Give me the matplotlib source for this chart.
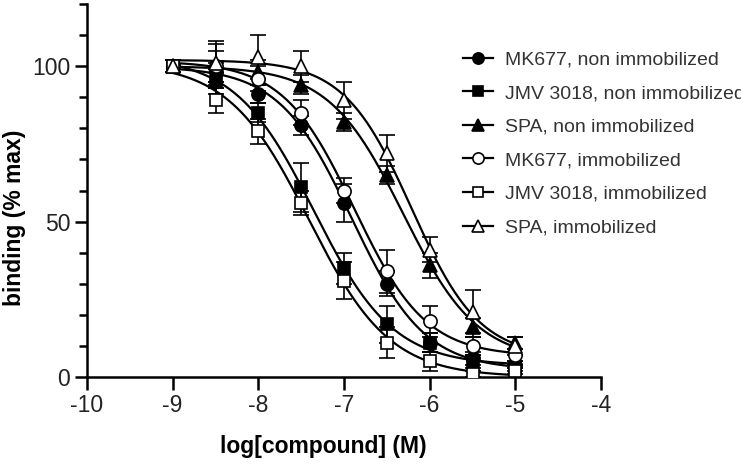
import numpy as np
import matplotlib
matplotlib.use("Agg")
import matplotlib.pyplot as plt
from matplotlib.ticker import MultipleLocator

plt.rcParams['font.family'] = ['Liberation Sans', 'DejaVu Sans']

# ---------------- data ----------------
log_conc = [-9, -8.5, -8, -7.5, -7, -6.5, -6, -5.5, -5]

mk677_non = [100, 98, 91, 81, 56, 30, 11, 6, 4]
mk677_non_err = [2, 3, 3, 3, 6, 4, 3, 2, 1]
jmv_non = [100, 95, 85, 61, 35, 17, 11, 5, 3]
jmv_non_err = [2, 4, 3, 8, 5, 6, 3, 2, 1]
spa_non = [100, 100, 98, 94, 82, 65, 36, 16, 11]
spa_non_err = [2, 5, 4, 3, 3, 3, 4, 3, 2]
mk677_imm = [100, 100, 96, 85, 60, 34, 18, 10, 7]
mk677_imm_err = [2, 7, 4, 4, 4, 7, 5, 3, 2]
jmv_imm = [100, 89, 79, 56, 31, 11, 5, 1, 2]
jmv_imm_err = [2, 4, 4, 4, 6, 5, 3, 1, 1]
spa_imm = [100, 101, 103, 100, 89, 72, 41, 21, 10]
spa_imm_err = [2, 7, 7, 5, 6, 6, 4, 7, 3]

labels = ["MK677, non immobilized", "JMV 3018, non immobilized",
          "SPA, non immobilized", "MK677, immobilized",
          "JMV 3018, immobilized", "SPA, immobilized"]
x_ticks = [-10, -9, -8, -7, -6, -5, -4]
y_ticks = [0, 50, 100]

series = [
    (mk677_non, mk677_non_err, 'o', 'black'),
    (jmv_non, jmv_non_err, 's', 'black'),
    (spa_non, spa_non_err, '^', 'black'),
    (mk677_imm, mk677_imm_err, 'o', 'white'),
    (jmv_imm, jmv_imm_err, 's', 'white'),
    (spa_imm, spa_imm_err, '^', 'white'),
]


def fit_logistic(x, y):
    """Least-squares fit of a 4-parameter logistic (grid over IC50/slope,
    linear solve for top/bottom)."""
    x = np.asarray(x, float)
    y = np.asarray(y, float)
    best = None
    for hill in np.linspace(0.6, 1.6, 51):
        for ic in np.linspace(-8.5, -5.5, 301):
            f = 1.0 / (1.0 + 10 ** ((x - ic) * hill))
            A = np.column_stack([1 - f, f])
            coef, *_ = np.linalg.lstsq(A, y, rcond=None)
            r = np.sum((A @ coef - y) ** 2)
            if best is None or r < best[0]:
                best = (r, ic, hill, coef[0], coef[1])
    return best[1:]


fig = plt.figure(figsize=(7.41, 4.71), dpi=100)
W, H = 741, 471
ax = fig.add_axes([87 / W, 1 - 377 / H, 514 / W, 373 / H])

xs = np.linspace(min(log_conc), max(log_conc), 300)
handles = []
for (vals, errs, mk, fc), lab in zip(series, labels):
    ic, hill, bottom, top = fit_logistic(log_conc, vals)
    curve = bottom + (top - bottom) / (1.0 + 10 ** ((xs - ic) * hill))
    ax.plot(xs, curve, color='black', lw=1.6, zorder=2)
    ax.errorbar(log_conc, vals, yerr=errs, fmt='none', ecolor='black',
                elinewidth=1.2, capsize=5.5, capthick=1.2, zorder=3)
    ms = 9.5 if mk != '^' else 10.5
    if mk == 's':
        ms = 9
    ax.plot(log_conc, vals, linestyle='none', marker=mk, ms=ms,
            mfc=fc, mec='black', mew=1.2, zorder=4)
    h, = ax.plot([], [], color='black', lw=1.6, marker=mk, ms=ms * 0.85,
                 mfc=fc, mec='black', mew=1.2)
    handles.append(h)

ax.set_xlim(-10, -4)
ax.set_ylim(0, 120)
ax.set_xticks(x_ticks)
ax.set_xticklabels([str(t) for t in x_ticks])
ax.set_yticks(y_ticks)
ax.yaxis.set_minor_locator(MultipleLocator(10))

for s in ['top', 'right']:
    ax.spines[s].set_visible(False)
for s in ['left', 'bottom']:
    ax.spines[s].set_linewidth(1.8)

ax.tick_params(axis='both', which='major', length=9, width=1.8,
               labelsize=16.5, labelcolor='#222222', pad=3)
ax.tick_params(axis='y', which='minor', length=6, width=1.8)

ax.set_xlabel("log[compound] (M)", fontsize=16.5, fontweight='bold')
ax.xaxis.set_label_coords((323 - 87) / 514, (377 - 446) / 373)
ax.xaxis.label.set_va('center')
ax.set_ylabel("binding (% max)", fontsize=16.5, fontweight='bold')
ax.yaxis.set_label_coords((15 - 87) / 514, (377 - 218) / 373)
ax.yaxis.label.set_va('center')

leg = ax.legend(handles, labels, loc='upper left',
                bbox_to_anchor=(463 / W, 1 - 51 / H),
                bbox_transform=fig.transFigure, frameon=False,
                fontsize=14, handlelength=1.55, handletextpad=0.6,
                labelspacing=0.82, borderpad=0, borderaxespad=0)
for t in leg.get_texts():
    t.set_color('#333333')

fig.savefig("out.png", dpi=100)
